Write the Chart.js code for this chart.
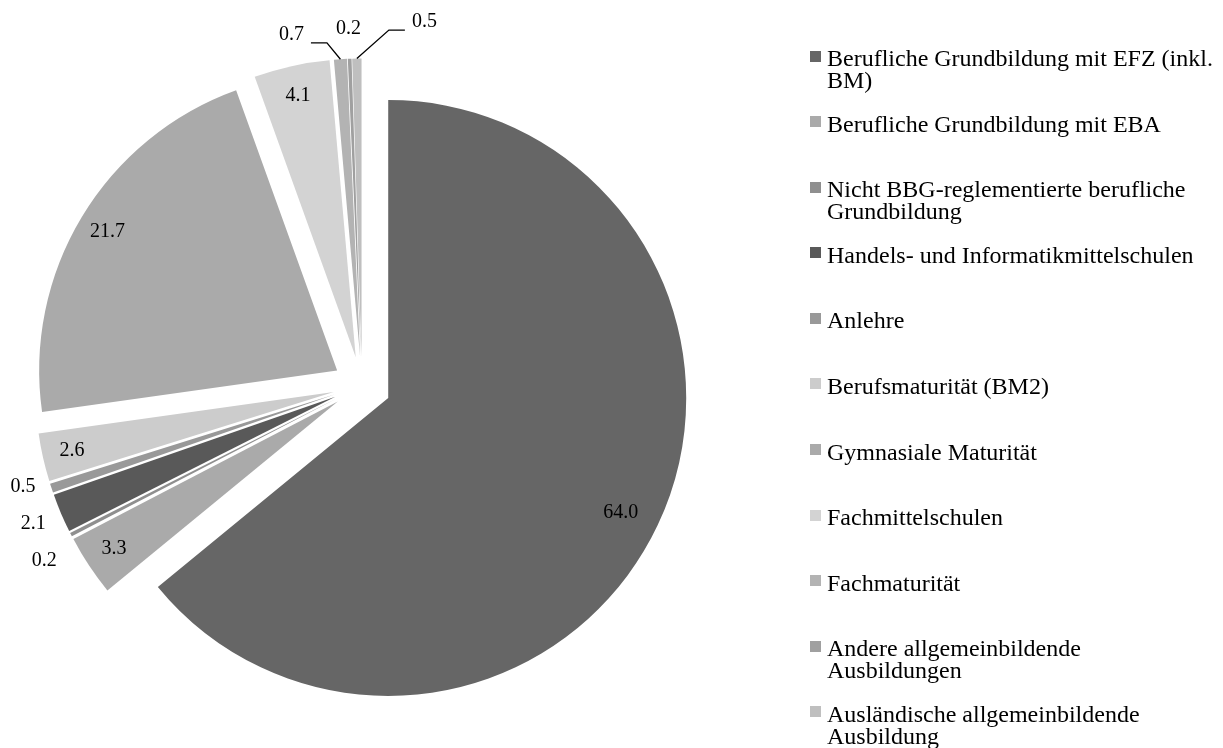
<!DOCTYPE html>
<html lang="de">
<head>
<meta charset="utf-8">
<title>Ausbildungstyp</title>
<script src="https://cdn.jsdelivr.net/npm/chart.js@4.4.1/dist/chart.umd.min.js"></script>
<style>
  html, body { margin: 0; padding: 0; background: #fff; }
  #wrap { position: relative; width: 1223px; height: 748px; overflow: hidden; }
  #pie { position: absolute; left: 0; top: 0; }
  #legend {
    position: absolute; left: 810px; top: 47px; margin: 0; padding: 0; list-style: none;
    font-family: "Liberation Serif", "Times New Roman", serif; font-size: 24px; color: #000;
  }
  #legend li { height: 65.6px; display: flex; align-items: flex-start; }
  #legend .txt { position: relative; padding-left: 17px; width: 389px; line-height: 22px; }
  #legend .box { position: absolute; left: 0; top: 3.5px; width: 11px; height: 11px; }
</style>
</head>
<body>
<div id="wrap">
  <canvas id="pie" width="1223" height="748"></canvas>
  <ul id="legend"></ul>
</div>
<script>
const categories = [
  'Berufliche Grundbildung mit EFZ (inkl. BM)',
  'Berufliche Grundbildung mit EBA',
  'Nicht BBG-reglementierte berufliche Grundbildung',
  'Handels- und Informatikmittelschulen',
  'Anlehre',
  'Berufsmaturität (BM2)',
  'Gymnasiale Maturität',
  'Fachmittelschulen',
  'Fachmaturität',
  'Andere allgemeinbildende Ausbildungen',
  'Ausländische allgemeinbildende Ausbildung'
];
const shares = [64.0, 3.3, 0.2, 2.1, 0.5, 2.6, 21.7, 4.1, 0.7, 0.2, 0.5];
const sliceColors = [
  '#666666', '#aaaaaa', '#8f8f8f', '#595959', '#999999', '#cccccc',
  '#aaaaaa', '#d3d3d3', '#b3b3b3', '#a0a0a0', '#bfbfbf'
];

// every slice is pulled out from the centre by the same distance (px)
const EXPLODE = 29;
// values below this get their label outside the pie
const INSIDE_MIN = 2.5;
// labels that were moved by hand in the original (outside ones get a leader line)
const LABEL_NUDGE = { 0: [-10, 0], 8: [-47, 5], 10: [68, -7] };

const explodePlugin = {
  id: 'explode',
  beforeDatasetDraw(chart, args) {
    const ctx = chart.ctx;
    args.meta.data.forEach(arc => {
      const mid = (arc.startAngle + arc.endAngle) / 2;
      ctx.save();
      ctx.translate(Math.cos(mid) * EXPLODE, Math.sin(mid) * EXPLODE);
      arc.draw(ctx);
      ctx.restore();
    });
    return false;
  }
};

const valueLabels = {
  id: 'valueLabels',
  afterDatasetsDraw(chart) {
    const ctx = chart.ctx;
    const arcs = chart.getDatasetMeta(0).data;
    ctx.save();
    ctx.font = '20px "Liberation Serif", "Times New Roman", serif';
    ctx.fillStyle = '#000';
    ctx.strokeStyle = '#000';
    ctx.lineWidth = 1.3;
    ctx.textAlign = 'center';
    ctx.textBaseline = 'middle';

    const leftSide = [];
    arcs.forEach((arc, i) => {
      const mid = (arc.startAngle + arc.endAngle) / 2;
      const cx = arc.x + Math.cos(mid) * EXPLODE;
      const cy = arc.y + Math.sin(mid) * EXPLODE;
      const r = arc.outerRadius;
      const text = shares[i].toFixed(1);
      const nudge = LABEL_NUDGE[i] || [0, 0];
      if (shares[i] >= INSIDE_MIN) {
        ctx.fillText(text, cx + Math.cos(mid) * r * 0.9 + nudge[0], cy + Math.sin(mid) * r * 0.9 + nudge[1]);
        return;
      }
      const edge = { x: cx + Math.cos(mid) * r, y: cy + Math.sin(mid) * r };
      const lbl = { text, x: cx + Math.cos(mid) * (r + 30), y: cy + Math.sin(mid) * (r + 30) };
      if (LABEL_NUDGE[i]) {
        lbl.x += nudge[0];
        lbl.y += nudge[1];
        const half = ctx.measureText(text).width / 2;
        const dir = lbl.x < edge.x ? 1 : -1;
        const x0 = lbl.x + dir * (half + 7);
        const ly = lbl.y + 8.5;
        ctx.beginPath();
        ctx.moveTo(x0, ly);
        ctx.lineTo(x0 + dir * 16, ly);
        ctx.lineTo(edge.x, edge.y);
        ctx.stroke();
        ctx.fillText(lbl.text, lbl.x, lbl.y);
      } else if (Math.cos(mid) < -0.5) {
        leftSide.push(lbl);
      } else {
        ctx.fillText(lbl.text, lbl.x, lbl.y);
      }
    });

    // spread the crowded labels on the left so they do not touch
    const gap = 37;
    leftSide.sort((a, b) => a.y - b.y);
    const mean = leftSide.reduce((s, l) => s + l.y, 0) / (leftSide.length || 1);
    leftSide.forEach((l, k) => {
      if (leftSide.length > 1) l.y = mean + (k - (leftSide.length - 1) / 2) * gap;
      ctx.fillText(l.text, l.x, l.y);
    });
    ctx.restore();
  }
};

new Chart(document.getElementById('pie'), {
  type: 'pie',
  data: {
    labels: categories,
    datasets: [{
      data: shares,
      backgroundColor: sliceColors,
      borderWidth: 0,
      radius: 298,
      clip: false
    }]
  },
  options: {
    responsive: false,
    animation: false,
    layout: { padding: { left: 0, right: 499, top: 23, bottom: 0 } },
    plugins: {
      legend: { display: false },
      tooltip: { enabled: false }
    }
  },
  plugins: [explodePlugin, valueLabels]
});

// legend built from the same arrays
const legend = document.getElementById('legend');
categories.forEach((name, i) => {
  const li = document.createElement('li');
  const txt = document.createElement('span');
  txt.className = 'txt';
  const box = document.createElement('span');
  box.className = 'box';
  box.style.background = sliceColors[i];
  txt.appendChild(box);
  txt.appendChild(document.createTextNode(name));
  li.appendChild(txt);
  legend.appendChild(li);
});
</script>
</body>
</html>
